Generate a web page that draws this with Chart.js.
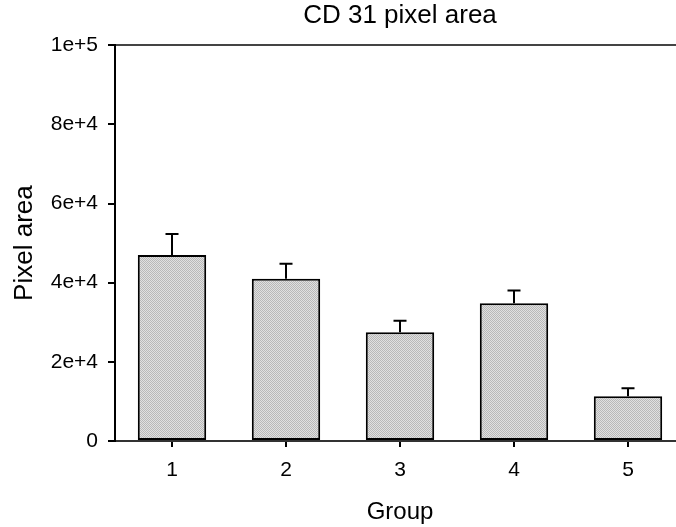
<!DOCTYPE html>
<html>
<head>
<meta charset="utf-8">
<title>CD 31 pixel area</title>
<script src="https://cdn.jsdelivr.net/npm/chart.js@4/dist/chart.umd.min.js"></script>
<style>
  html, body { margin: 0; padding: 0; background: #fff; overflow: hidden; }
  #wrap { position: absolute; left: 0; top: 0; width: 800px; height: 527px; }
</style>
</head>
<body>
<div id="wrap"><canvas id="chart" width="800" height="527"></canvas></div>
<script>
const groups = ['1', '2', '3', '4', '5'];
const meanArea = [47000, 41000, 27500, 34800, 11300];
const errArea = [5300, 3800, 2900, 3200, 2000];
const yTicks = [0, 20000, 40000, 60000, 80000, 100000];

// fine stipple fill for the bars
function stipple() {
    const c = document.createElement('canvas');
    c.width = 2; c.height = 2;
    const g = c.getContext('2d');
    g.fillStyle = '#e0e0e0'; g.fillRect(0, 0, 2, 2);
    g.fillStyle = '#b8b8b8'; g.fillRect(0, 0, 1, 1); g.fillRect(1, 1, 1, 1);
    return g.createPattern(c, 'repeat');
}

// upward error bars with a cap
const errorBars = {
    id: 'errorBars',
    afterDatasetsDraw(chart) {
        const ctx = chart.ctx;
        const y = chart.scales.y;
        chart.getDatasetMeta(0).data.forEach((bar, i) => {
            const top = y.getPixelForValue(meanArea[i] + errArea[i]);
            ctx.save();
            ctx.strokeStyle = '#000';
            ctx.lineWidth = 2;
            ctx.beginPath();
            ctx.moveTo(bar.x, bar.y);
            ctx.lineTo(bar.x, top);
            ctx.moveTo(bar.x - 6.5, top);
            ctx.lineTo(bar.x + 6.5, top);
            ctx.stroke();
            ctx.restore();
        });
    }
};

Chart.defaults.font.family = "'Liberation Sans', Arial, sans-serif";
Chart.defaults.color = '#000';

const ctx = document.getElementById('chart').getContext('2d');
new Chart(ctx, {
    type: 'bar',
    data: {
        labels: groups,
        datasets: [{
            data: meanArea,
            backgroundColor: stipple(),
            borderColor: '#000',
            borderWidth: 2,
            borderSkipped: false,
            barPercentage: 0.6,
            categoryPercentage: 1
        }]
    },
    options: {
        responsive: false,
        animation: false,
        layout: { padding: { left: 0, right: 115, top: 0, bottom: 0 } },
        plugins: {
            legend: { display: false },
            tooltip: { enabled: false },
            title: {
                display: true,
                fullSize: false,
                text: 'CD 31 pixel area',
                font: { size: 26, weight: 'normal' },
                padding: { top: 0, bottom: 14 }
            }
        },
        scales: {
            x: {
                offset: true,
                afterFit: s => { s.height = 86; },
                grid: { drawOnChartArea: false, offset: false, tickLength: 6, tickColor: '#000', lineWidth: 2 },
                border: { color: '#333', width: 2 },
                ticks: { font: { size: 21 }, padding: 11 },
                title: { display: true, text: 'Group', font: { size: 24 }, padding: { top: 0, bottom: 0 } }
            },
            y: {
                min: 0,
                max: 100000,
                afterFit: s => { s.width = 115; },
                afterBuildTicks: s => { s.ticks = yTicks.map(v => ({ value: v })); },
                grid: {
                    color: c => (c.tick && c.tick.value === 100000 ? '#444' : 'rgba(0,0,0,0)'),
                    lineWidth: 2,
                    tickColor: '#000',
                    tickLength: 7
                },
                border: { color: '#000', width: 2 },
                ticks: {
                    font: { size: 21 },
                    padding: 10,
                    callback: v => (v === 0 ? '0' : v.toExponential())
                },
                title: { display: true, text: 'Pixel area', font: { size: 26 }, padding: { top: 9, bottom: 0 } }
            }
        }
    },
    plugins: [errorBars]
});
</script>
</body>
</html>
